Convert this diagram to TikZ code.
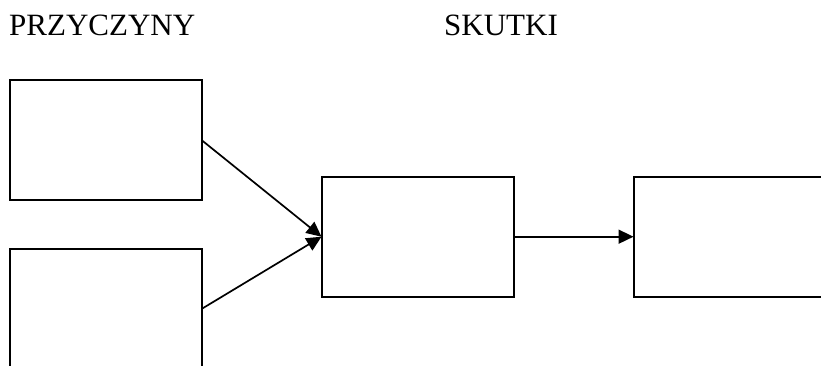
\documentclass[tikz,border=0pt]{standalone}
\usepackage{fontspec}
\setmainfont{Liberation Serif}
\usetikzlibrary{arrows.meta}
\begin{document}
\begin{tikzpicture}[x=1pt,y=-1pt,
  boxnode/.style={draw,line width=2pt,inner sep=0pt,outer sep=0pt,minimum width=192pt,minimum height=120pt},
  conn/.style={line width=1.7pt,-{Triangle[length=15pt,width=14pt]}},
  title/.style={anchor=base west,inner sep=0pt,font=\fontsize{31}{36}\selectfont}]
\clip (0,0) rectangle (821,365);
\fill[white] (0,0) rectangle (821,365);
\node[title] (przyczyny) at (9,35) {PRZYCZYNY};
\node[title] (skutki) at (444,35) {SKUTKI};
\node[boxnode] (b1) at (105.5,140) {};
\node[boxnode] (b2) at (105.5,309) {};
\node[boxnode] (b3) at (417.5,236.7) {};
\node[boxnode] (b4) at (729.5,236.7) {};
\draw[conn] (b1.east) -- (b3.west);
\draw[conn] (b2.east) -- (b3.west);
\draw[conn] (b3.east) -- (b4.west);
\end{tikzpicture}
\end{document}
